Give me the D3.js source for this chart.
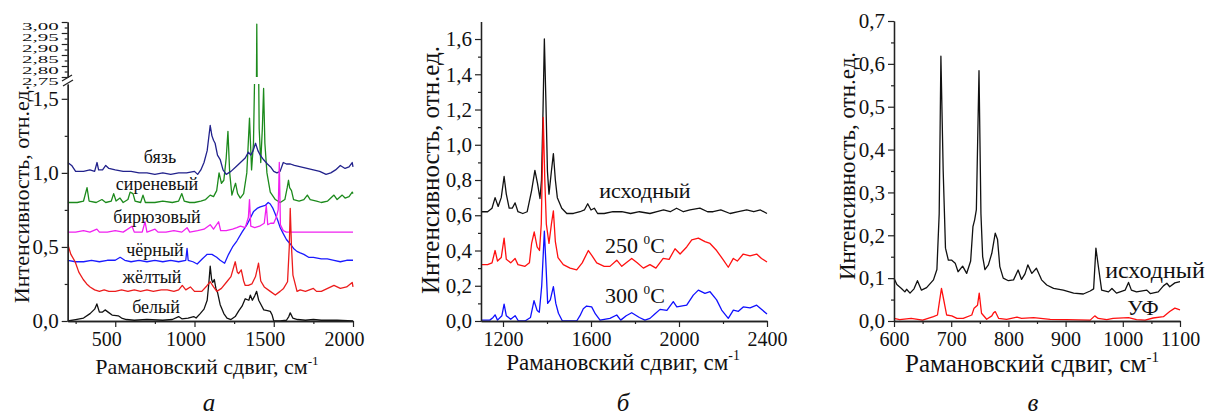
<!DOCTYPE html>
<html>
<head>
<meta charset="utf-8">
<script src="https://cdn.jsdelivr.net/npm/d3@7"></script>
<style>
  body { margin: 0; background: #fff; }
  svg { display: block; }
  svg text { font-family: "Liberation Serif", "DejaVu Serif", serif !important; fill: #111; }
</style>
</head>
<body>
<svg width="1212" height="419"></svg>
<script>
// ---- panel a: textile samples, x = cm-1, y = rel. units ----
var bjazA = [[200,1.07],[225,1.05],[250,1.01],[300,1.01],[340,1.02],[370,1.01],[385,1.07],[395,1.02],[420,1.02],[440,1.05],[460,1.03],[500,1.02],[550,1.01],[600,1.01],[650,1.0],[700,1.0],[750,0.99],[800,1.0],[850,0.99],[900,1.0],[950,1.0],[1000,1.01],[1020,0.99],[1040,1.02],[1060,1.07],[1080,1.15],[1099,1.32],[1110,1.25],[1120,1.22],[1130,1.2],[1145,1.12],[1162,1.09],[1180,1.02],[1200,0.99],[1230,1.01],[1260,1.04],[1290,1.07],[1320,1.1],[1340,1.14],[1355,1.12],[1370,1.15],[1385,1.2],[1400,1.15],[1415,1.12],[1435,1.09],[1460,1.06],[1480,1.04],[1500,1.01],[1520,1.0],[1540,1.01],[1560,1.07],[1580,1.06],[1605,1.06],[1630,1.05],[1670,1.04],[1710,1.03],[1750,1.02],[1790,1.01],[1830,0.99],[1860,1.0],[1890,1.02],[1920,1.05],[1950,1.03],[1975,1.04],[1995,1.07],[2000,1.04]]
var sirenA = [[200,0.8],[260,0.8],[300,0.81],[322,0.9],[335,0.81],[380,0.8],[416,0.82],[440,0.8],[475,0.81],[490,0.86],[505,0.81],[530,0.83],[550,0.8],[580,0.82],[594,0.87],[612,0.86],[625,0.81],[660,0.8],[675,0.85],[690,0.8],[750,0.8],[800,0.81],[860,0.8],[900,0.81],[920,0.86],[935,0.81],[970,0.8],[1000,0.8],[1040,0.81],[1070,0.82],[1099,0.85],[1120,0.84],[1140,0.88],[1155,1.0],[1170,0.93],[1185,0.95],[1200,1.1],[1211,1.28],[1222,1.0],[1236,0.85],[1250,0.9],[1259,0.93],[1272,0.86],[1289,0.83],[1310,0.86],[1330,1.0],[1347,1.37],[1360,1.02],[1372,1.2],[1385,2.0],[1393,2.99],[1400,2.2],[1408,1.3],[1418,1.07],[1428,1.3],[1436,1.57],[1444,1.2],[1457,1.0],[1478,0.87],[1510,0.82],[1541,0.8],[1570,0.82],[1585,0.9],[1593,0.95],[1600,0.9],[1612,0.88],[1625,0.82],[1660,0.81],[1690,0.82],[1712,0.85],[1730,0.82],[1770,0.81],[1800,0.8],[1840,0.81],[1880,0.85],[1900,0.82],[1932,0.85],[1950,0.83],[1975,0.84],[1995,0.87],[2000,0.86]]
var birjuzA = [[200,0.6],[250,0.6],[300,0.61],[340,0.6],[384,0.62],[400,0.6],[450,0.6],[500,0.61],[550,0.6],[606,0.64],[620,0.6],[670,0.6],[688,0.67],[700,0.6],[751,0.62],[770,0.6],[820,0.6],[870,0.61],[920,0.6],[953,0.63],[970,0.6],[1020,0.61],[1060,0.62],[1099,0.65],[1120,0.62],[1152,0.67],[1165,0.61],[1200,0.61],[1240,0.62],[1267,0.63],[1290,0.64],[1320,0.63],[1340,0.7],[1347,0.82],[1355,0.64],[1380,0.63],[1410,0.64],[1440,0.66],[1453,0.78],[1462,0.65],[1480,0.66],[1500,0.66],[1516,0.7],[1528,0.75],[1535,1.07],[1542,0.65],[1560,0.61],[1580,0.6],[1650,0.6],[1750,0.6],[1850,0.6],[1950,0.6],[2000,0.6]]
var chernA = [[200,0.41],[250,0.4],[300,0.4],[350,0.41],[400,0.4],[450,0.41],[500,0.41],[531,0.43],[560,0.41],[600,0.4],[650,0.41],[700,0.4],[750,0.41],[800,0.4],[850,0.41],[900,0.4],[945,0.41],[953,0.49],[960,0.41],[990,0.4],[1017,0.385],[1050,0.42],[1080,0.45],[1110,0.45],[1140,0.43],[1162,0.41],[1190,0.39],[1215,0.45],[1240,0.5],[1267,0.54],[1300,0.6],[1331,0.65],[1355,0.7],[1373,0.74],[1395,0.76],[1415,0.77],[1446,0.78],[1465,0.8],[1478,0.79],[1495,0.76],[1510,0.72],[1525,0.68],[1541,0.63],[1560,0.59],[1580,0.55],[1604,0.52],[1625,0.49],[1646,0.47],[1667,0.46],[1690,0.45],[1720,0.43],[1750,0.43],[1800,0.42],[1838,0.42],[1880,0.41],[1920,0.4],[1960,0.41],[2000,0.41]]
var zheltA = [[200,0.52],[220,0.45],[247,0.4],[270,0.33],[298,0.28],[320,0.25],[341,0.23],[370,0.21],[400,0.2],[430,0.21],[460,0.2],[500,0.2],[540,0.21],[580,0.2],[620,0.21],[660,0.2],[700,0.21],[740,0.2],[790,0.21],[828,0.21],[870,0.2],[900,0.21],[923,0.24],[945,0.21],[974,0.23],[1000,0.2],[1046,0.2],[1080,0.24],[1099,0.265],[1120,0.23],[1141,0.2],[1170,0.22],[1204,0.265],[1230,0.3],[1257,0.4],[1270,0.33],[1278,0.32],[1295,0.345],[1310,0.27],[1320,0.24],[1340,0.24],[1362,0.25],[1385,0.3],[1404,0.39],[1418,0.27],[1440,0.23],[1478,0.2],[1510,0.175],[1540,0.2],[1562,0.22],[1587,0.265],[1598,0.5],[1604,0.76],[1612,0.5],[1621,0.31],[1647,0.2],[1667,0.21],[1700,0.2],[1750,0.22],[1770,0.2],[1800,0.2],[1840,0.22],[1880,0.24],[1920,0.22],[1960,0.23],[1995,0.26],[2000,0.23]]
var belyA = [[200,0.0],[250,0.01],[300,0.02],[341,0.05],[370,0.08],[384,0.115],[400,0.06],[420,0.06],[436,0.075],[455,0.06],[480,0.04],[519,0.035],[540,0.02],[570,0.01],[620,0.005],[700,0.01],[800,0.005],[860,0.01],[900,0.03],[920,0.015],[960,0.02],[995,0.03],[1010,0.02],[1036,0.05],[1060,0.08],[1080,0.14],[1090,0.25],[1099,0.37],[1108,0.28],[1115,0.26],[1125,0.28],[1135,0.22],[1146,0.19],[1162,0.11],[1185,0.05],[1205,0.02],[1230,0.01],[1257,0.03],[1280,0.07],[1300,0.1],[1320,0.15],[1343,0.14],[1352,0.175],[1365,0.14],[1380,0.17],[1392,0.2],[1405,0.14],[1415,0.12],[1437,0.075],[1460,0.07],[1478,0.065],[1490,0.04],[1500,0.0],[1540,0.0],[1580,0.005],[1595,0.03],[1604,0.055],[1620,0.02],[1650,0.01],[1700,0.005],[1750,0.01],[1800,0.005],[1900,0.005],[2000,0.0]]
var labelsA = ["бязь", "сиреневый", "бирюзовый", "чёрный", "жёлтый", "белый"]

// ---- panel б: heating ----
var iskhodB = [[1100,0.62],[1130,0.62],[1150,0.64],[1164,0.7],[1178,0.65],[1192,0.7],[1205,0.82],[1215,0.72],[1228,0.64],[1242,0.64],[1255,0.67],[1268,0.62],[1290,0.61],[1310,0.62],[1330,0.74],[1345,0.855],[1357,0.78],[1368,0.695],[1375,0.8],[1382,1.2],[1388,1.6],[1395,1.25],[1402,0.85],[1409,0.72],[1420,0.85],[1429,0.95],[1438,0.8],[1447,0.7],[1467,0.64],[1490,0.61],[1520,0.61],[1550,0.62],[1570,0.63],[1585,0.665],[1600,0.63],[1615,0.64],[1630,0.61],[1660,0.61],[1700,0.62],[1740,0.62],[1780,0.61],[1820,0.62],[1868,0.61],[1900,0.62],[1930,0.63],[1960,0.62],[1989,0.64],[2020,0.62],[2050,0.63],[2095,0.64],[2130,0.62],[2155,0.62],[2190,0.63],[2232,0.61],[2270,0.62],[2308,0.63],[2340,0.62],[2370,0.63],[2400,0.61]]
var t250B = [[1100,0.32],[1130,0.32],[1150,0.33],[1164,0.40],[1175,0.34],[1192,0.36],[1205,0.47],[1215,0.35],[1235,0.33],[1255,0.355],[1268,0.32],[1300,0.31],[1320,0.33],[1330,0.44],[1342,0.505],[1355,0.42],[1366,0.40],[1374,0.55],[1383,1.155],[1390,0.8],[1397,0.55],[1409,0.44],[1420,0.55],[1429,0.625],[1438,0.45],[1450,0.36],[1474,0.32],[1505,0.3],[1535,0.29],[1560,0.33],[1588,0.40],[1605,0.37],[1626,0.33],[1660,0.31],[1686,0.31],[1717,0.345],[1740,0.31],[1760,0.33],[1785,0.355],[1810,0.33],[1838,0.30],[1868,0.32],[1895,0.30],[1928,0.355],[1955,0.35],[1982,0.41],[2005,0.38],[2035,0.42],[2058,0.46],[2088,0.47],[2118,0.45],[2141,0.44],[2171,0.40],[2202,0.345],[2224,0.305],[2247,0.355],[2265,0.34],[2292,0.38],[2323,0.37],[2353,0.38],[2375,0.355],[2400,0.335]]
var t300B = [[1100,0.005],[1140,0.005],[1155,0.02],[1164,0.035],[1175,0.005],[1195,0.03],[1205,0.096],[1215,0.03],[1235,0.01],[1255,0.03],[1270,0.0],[1300,0.0],[1325,0.02],[1341,0.115],[1355,0.06],[1365,0.05],[1376,0.2],[1388,0.51],[1396,0.3],[1403,0.1],[1415,0.12],[1429,0.195],[1440,0.1],[1452,0.044],[1470,0.0],[1500,0.0],[1535,0.0],[1550,0.03],[1565,0.07],[1580,0.085],[1603,0.08],[1620,0.04],[1641,0.005],[1686,0.015],[1717,0.034],[1735,0.005],[1760,0.03],[1785,0.047],[1820,0.02],[1845,0.005],[1868,0.015],[1890,0.04],[1914,0.066],[1945,0.06],[1974,0.11],[1990,0.08],[2035,0.09],[2065,0.147],[2088,0.175],[2118,0.157],[2141,0.166],[2171,0.12],[2194,0.062],[2224,0.015],[2247,0.062],[2270,0.055],[2292,0.08],[2323,0.075],[2353,0.09],[2376,0.065],[2400,0.04]]
var labelsB = ["исходный", "250 ", "300 "]

// ---- panel в: UV ----
var iskhodV = [[600,0.1],[605,0.085],[613,0.076],[619,0.068],[622,0.074],[628,0.065],[635,0.075],[641,0.094],[648,0.072],[657,0.078],[669,0.096],[675,0.12],[679,0.25],[682,0.618],[686,0.35],[690,0.17],[695,0.142],[701,0.142],[707,0.135],[712,0.115],[720,0.128],[727,0.111],[734,0.14],[738,0.22],[741,0.236],[744,0.26],[748.6,0.584],[752,0.25],[755,0.15],[759,0.12],[765,0.131],[771,0.158],[777,0.205],[781,0.19],[785,0.127],[791,0.1],[800,0.094],[809,0.096],[817,0.119],[823,0.097],[829,0.11],[834,0.131],[841,0.111],[849,0.123],[858,0.096],[867,0.084],[879,0.076],[896,0.072],[914,0.065],[931,0.063],[943,0.07],[949,0.075],[953,0.17],[957,0.13],[963,0.072],[975,0.068],[981,0.076],[989,0.065],[1004,0.072],[1010,0.09],[1015,0.072],[1024,0.068],[1042,0.072],[1048,0.064],[1062,0.068],[1071,0.082],[1077,0.088],[1082,0.08],[1091,0.089],[1100,0.092]]
var ufV = [[600,0.006],[610,0.003],[630,0.006],[650,0.002],[669,0.01],[676,0.014],[679,0.041],[683,0.076],[687,0.049],[692,0.014],[701,0.012],[710,0.006],[721,0.006],[736,0.014],[740,0.03],[746,0.037],[749,0.065],[753,0.018],[762,0.004],[771,0.012],[774,0.019],[777,0.022],[783,0.006],[797,0.004],[815,0.009],[823,0.006],[844,0.008],[873,0.004],[902,0.003],[943,0.002],[951,0.012],[957,0.006],[972,0.003],[983,0.006],[1010,0.008],[1024,0.003],[1039,0.002],[1053,0.007],[1071,0.01],[1082,0.022],[1091,0.03],[1100,0.026]]
var labelsV = ["исходный", "УФ"]

// ticks
var xTicksA = [500, 1000, 1500, 2000], xMinorA = [250, 750, 1250, 1750]
var yTicksA = [0, 0.5, 1.0, 1.5], yMinorA = [0.25, 0.75, 1.25]
var yTicksAHigh = [2.75, 2.80, 2.85, 2.90, 2.95, 3.00], yMinorAHigh = [2.775, 2.825, 2.875, 2.925, 2.975]
var xTicksB = [1200, 1600, 2000, 2400], xMinorB = [1400, 1800, 2200]
var yTicksB = [0, 0.2, 0.4, 0.6, 0.8, 1.0, 1.2, 1.4, 1.6], yMinorB = [0.1, 0.3, 0.5, 0.7, 0.9, 1.1, 1.3, 1.5]
var xTicksV = [600, 700, 800, 900, 1000, 1100], xMinorV = [650, 750, 850, 950, 1050]
var yTicksV = [0, 0.1, 0.2, 0.3, 0.4, 0.5, 0.6, 0.7], yMinorV = [0.05, 0.15, 0.25, 0.35, 0.45, 0.55, 0.65]

var xTitle = "Рамановский сдвиг, см"
var yTitle = "Интенсивность, отн.ед."
var panelNames = ["а", "б", "в"]

var FONT = "Liberation Serif, DejaVu Serif, serif"
var svg = d3.select("svg")
var bottom = 321

function comma(f) {
    var fm = d3.format(f)
    return function(d) { return fm(d).replace(".", ",") }
}

function styleAxis(g, size) {
    g.attr("font-family", FONT)
    g.selectAll(".domain").attr("stroke", "#222").attr("stroke-width", 1.3)
    g.selectAll(".tick line").attr("stroke", "#222").attr("stroke-width", 1.2)
    g.selectAll(".tick text").attr("font-size", size).attr("fill", "#111").attr("font-family", FONT)
}

function xAxis(x, major, minor, dx) {
    var g1 = svg.append("g").attr("transform", "translate(0," + bottom + ")")
        .call(d3.axisBottom(x).tickValues(minor).tickSize(3).tickFormat("").tickSizeOuter(0))
    styleAxis(g1, 20)
    var g2 = svg.append("g").attr("transform", "translate(0," + bottom + ")")
        .call(d3.axisBottom(x).tickValues(major).tickSize(6).tickPadding(5).tickFormat(d3.format("d")).tickSizeOuter(0))
    styleAxis(g2, 20)
    if (dx) g2.selectAll(".tick text").attr("dx", dx)
}

function yAxis(y, x0, major, minor, fmt) {
    var g1 = svg.append("g").attr("transform", "translate(" + x0 + ",0)")
        .call(d3.axisLeft(y).tickValues(minor).tickSize(3).tickFormat("").tickSizeOuter(0))
    styleAxis(g1, 21)
    var g2 = svg.append("g").attr("transform", "translate(" + x0 + ",0)")
        .call(d3.axisLeft(y).tickValues(major).tickSize(6).tickPadding(3).tickFormat(fmt).tickSizeOuter(0))
    styleAxis(g2, 21)
    return g2
}

function drawLine(data, x, y, color, clip) {
    var line = d3.line().x(function(d) { return x(d[0]) }).y(function(d) { return y(d[1]) })
    var p = svg.append("path").datum(data).attr("d", line)
        .attr("fill", "none").attr("stroke", color).attr("stroke-width", 1.3)
        .attr("stroke-linejoin", "round")
    if (clip) p.attr("clip-path", "url(#" + clip + ")")
}

function clipRect(id, x0, y0, w, h) {
    svg.append("defs").append("clipPath").attr("id", id)
        .append("rect").attr("x", x0).attr("y", y0).attr("width", w).attr("height", h)
}

function titles(cx, xy, xs, ty, tx, ys) {
    var t = svg.append("text").attr("x", cx).attr("y", xy).attr("text-anchor", "middle")
        .attr("font-family", FONT).attr("font-size", xs).text(xTitle)
    t.append("tspan").attr("dy", -xs * 0.42).attr("font-size", xs * 0.6).text("-1")
    svg.append("text").attr("transform", "translate(" + tx + "," + ty + ") rotate(-90)")
        .attr("text-anchor", "middle").attr("font-family", FONT).attr("font-size", ys).text(yTitle)
}

function letter(txt, x, y) {
    svg.append("text").attr("x", x).attr("y", y).attr("text-anchor", "middle")
        .attr("font-family", FONT).attr("font-size", 25).attr("font-style", "italic").text(txt)
}

function curveLabel(txt, x, y, size, deg) {
    var t = svg.append("text").attr("x", x).attr("y", y).attr("text-anchor", "middle")
        .attr("font-family", FONT).attr("font-size", size).text(txt)
    if (deg) {
        t.append("tspan").attr("dy", -size * 0.42).attr("font-size", size * 0.6).text("0")
        t.append("tspan").attr("dy", size * 0.42).text("C")
    }
}

// ===== panel a =====
var xa = d3.scaleLinear().domain([200, 2000]).range([67.7, 353])
var yaLow = d3.scaleLinear().domain([0, 1.6]).range([bottom, 84])
var yaHigh = d3.scaleLinear().domain([2.75, 3.0]).range([77, 22])
clipRect("clipLow", 67.7, 84, 290, bottom - 84 + 1)
clipRect("clipHigh", 67.7, 22, 290, 55)

var seriesA = [[sirenA, "#1c8a1c"], [bjazA, "#22228c"], [chernA, "#1a1aff"], [birjuzA, "#f020f0"], [belyA, "#111"], [zheltA, "#ec1c1c"]]
seriesA.forEach(function(s) {
    drawLine(s[0], xa, yaLow, s[1], "clipLow")
    drawLine(s[0], xa, yaHigh, s[1], "clipHigh")
})

xAxis(xa, xTicksA, xMinorA, -9)
yAxis(yaLow, 67.7, yTicksA, yMinorA, comma(".1f"))
var upper = yAxis(yaHigh, 67.7, yTicksAHigh, yMinorAHigh, comma(".2f"))
// the upper labels are squeezed vertically, as in the original figure
upper.selectAll(".tick text").attr("transform", "translate(0,0) scale(1,0.5)")
    .attr("dy", "0.64em")
    .attr("y", function() { return 0 })
upper.selectAll(".tick").each(function() {
    var t = d3.select(this).select("text")
    t.attr("transform", "scale(1,0.5)").attr("dy", "0.7em")
})
// axis break marks
svg.append("line").attr("x1", 62).attr("y1", 81).attr("x2", 72).attr("y2", 75).attr("stroke", "#222").attr("stroke-width", 1.3)
svg.append("line").attr("x1", 63).attr("y1", 86).attr("x2", 73).attr("y2", 80).attr("stroke", "#222").attr("stroke-width", 1.3)

var posA = [[160, 163], [157, 190], [157, 223], [155, 256], [152, 283], [156, 313]]
labelsA.forEach(function(l, i) { curveLabel(l, posA[i][0], posA[i][1], 18) })
titles(207, 374, 22, 194, 29, 22)
letter(panelNames[0], 209, 411)

// ===== panel б =====
var xb = d3.scaleLinear().domain([1100, 2400]).range([481, 767])
var yb = d3.scaleLinear().domain([0, 1.7]).range([bottom, 21.4])
drawLine(iskhodB, xb, yb, "#111")
drawLine(t250B, xb, yb, "#ff1010")
drawLine(t300B, xb, yb, "#1010ff")
xAxis(xb, xTicksB, xMinorB)
yAxis(yb, 481, yTicksB, yMinorB, comma(".1f"))
curveLabel(labelsB[0], 645, 198, 22)
curveLabel(labelsB[1], 635, 253, 22, true)
curveLabel(labelsB[2], 635, 303, 22, true)
titles(623, 370, 23, 170, 439, 25)
letter(panelNames[1], 623, 411)

// ===== panel в =====
var xv = d3.scaleLinear().domain([600, 1100]).range([894, 1180])
var yv = d3.scaleLinear().domain([0, 0.7]).range([bottom, 21])
drawLine(iskhodV, xv, yv, "#111")
drawLine(ufV, xv, yv, "#ff1010")
xAxis(xv, xTicksV, xMinorV)
yAxis(yv, 894, yTicksV, yMinorV, comma(".1f"))
curveLabel(labelsV[0], 1155, 278, 24)
curveLabel(labelsV[1], 1143, 315, 22)
titles(1032, 372, 25, 166, 855, 23)
letter(panelNames[2], 1033, 411)
</script>
</body>
</html>
